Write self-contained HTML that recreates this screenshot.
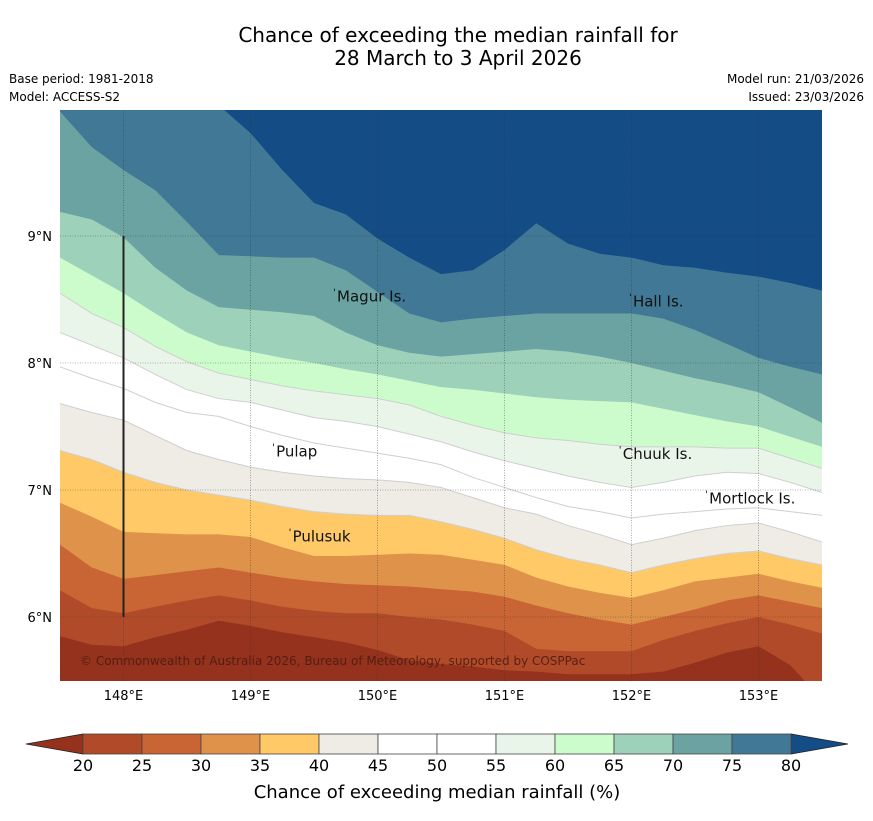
<!DOCTYPE html>
<html><head><meta charset="utf-8"><style>
body{margin:0;background:#fff;font-family:"Liberation Sans","DejaVu Sans",sans-serif;}
svg text{font-family:"DejaVu Sans","Liberation Sans",sans-serif;}
</style></head><body>
<svg id="chart" width="873" height="816" viewBox="0 0 873 816" xmlns="http://www.w3.org/2000/svg">
<text x="458" y="42" font-size="20" text-anchor="middle">Chance of exceeding the median rainfall for</text>
<text x="458" y="65" font-size="20" text-anchor="middle">28 March to 3 April 2026</text>
<text x="9" y="83" font-size="12">Base period: 1981-2018</text>
<text x="9" y="101" font-size="12">Model: ACCESS-S2</text>
<text x="864" y="83" font-size="12" text-anchor="end">Model run: 21/03/2026</text>
<text x="864" y="101" font-size="12" text-anchor="end">Issued: 23/03/2026</text>
<defs><clipPath id="mapclip"><rect x="60" y="110" width="762" height="571"/></clipPath></defs>
<g id="map" clip-path="url(#mapclip)"></g>
<g id="overlay"></g>
<g id="cbar"></g>
<text x="437" y="798" font-size="18" text-anchor="middle">Chance of exceeding median rainfall (%)</text>
</svg>
<script>
const lons=[147.5,147.75,148,148.25,148.5,148.75,149,149.25,149.5,149.75,150,150.25,150.5,150.75,151,151.25,151.5,151.75,152,152.25,152.5,152.75,153,153.25,153.5];
const levels=[20,25,30,35,40,45,50,55,60,65,70,75,80];
const b20=[5.85,5.78,5.77,5.84,5.90,5.97,5.93,5.88,5.84,5.80,5.74,5.66,5.63,5.61,5.58,5.57,5.55,5.55,5.55,5.57,5.64,5.72,5.77,5.62,5.35];
const b25=[6.21,6.07,6.03,6.08,6.13,6.17,6.13,6.08,6.05,6.03,6.03,6.00,5.98,5.94,5.89,5.75,5.73,5.73,5.73,5.82,5.89,5.95,6.00,5.94,5.87];
const b30=[6.57,6.39,6.30,6.33,6.36,6.39,6.35,6.31,6.28,6.26,6.25,6.24,6.22,6.20,6.16,6.09,6.03,5.98,5.94,6.00,6.06,6.13,6.17,6.12,6.07];
const b35=[6.90,6.79,6.67,6.66,6.65,6.65,6.63,6.55,6.48,6.48,6.49,6.50,6.49,6.45,6.41,6.31,6.24,6.19,6.15,6.21,6.28,6.31,6.34,6.28,6.23];
const b40=[7.31,7.24,7.14,7.06,7.00,6.96,6.92,6.87,6.83,6.81,6.80,6.80,6.75,6.69,6.62,6.53,6.46,6.41,6.35,6.41,6.46,6.50,6.52,6.46,6.41];
const b45=[7.68,7.61,7.55,7.43,7.31,7.24,7.18,7.14,7.11,7.09,7.08,7.06,7.02,6.94,6.86,6.81,6.72,6.65,6.57,6.62,6.68,6.72,6.74,6.67,6.59];
const b50=[7.97,7.88,7.80,7.69,7.61,7.58,7.50,7.43,7.37,7.33,7.29,7.25,7.20,7.10,7.02,6.94,6.87,6.83,6.78,6.81,6.83,6.85,6.86,6.83,6.80];
const b55=[8.24,8.14,8.04,7.91,7.79,7.72,7.69,7.63,7.57,7.54,7.50,7.44,7.38,7.30,7.23,7.17,7.11,7.06,7.02,7.06,7.11,7.14,7.13,7.06,6.98];
const b60=[8.55,8.39,8.28,8.13,8.01,7.92,7.87,7.82,7.78,7.75,7.72,7.67,7.58,7.51,7.45,7.41,7.39,7.36,7.34,7.34,7.34,7.33,7.33,7.25,7.17];
const b65=[8.83,8.69,8.55,8.39,8.24,8.14,8.09,8.04,8.00,7.95,7.91,7.86,7.81,7.79,7.76,7.73,7.71,7.70,7.69,7.64,7.59,7.54,7.50,7.42,7.34];
const b70=[9.19,9.13,8.99,8.75,8.57,8.44,8.42,8.40,8.37,8.24,8.14,8.08,8.05,8.07,8.09,8.11,8.09,8.05,8.00,7.94,7.88,7.83,7.77,7.65,7.53];
const b75=[9.98,9.70,9.52,9.36,9.11,8.85,8.84,8.83,8.83,8.73,8.56,8.39,8.32,8.35,8.37,8.39,8.39,8.39,8.39,8.35,8.26,8.15,8.04,7.97,7.91];
const b80=[10.11,10.11,10.11,10.11,10.11,10.03,9.81,9.52,9.26,9.17,8.98,8.83,8.70,8.73,8.89,9.10,8.94,8.86,8.83,8.77,8.75,8.71,8.68,8.63,8.57];
const colors=['#94321e','#b04a28','#c96534','#df9249','#fec966','#efebe5','#ffffff','#ffffff','#eaf5ea','#ccfccc','#9dd1ba','#6ba3a3','#417895','#144d86'];
const lonTicks=[148,149,150,151,152,153];
const latTicks=[6,7,8,9];
const places=[["Magur Is.",149.65,8.57],["Hall Is.",151.98,8.53],["Pulap",149.17,7.35],["Chuuk Is.",151.9,7.33],["Mortlock Is.",152.58,6.98],["Pulusuk",149.3,6.68]];

const NS='http://www.w3.org/2000/svg';
const X=lon=>60+(lon-147.5)*127;
const Y=lat=>236+(9-lat)*127;
const map=document.getElementById('map');
const ov=document.getElementById('overlay');
const cb=document.getElementById('cbar');
function mk(tag,parent,attrs){const e=document.createElementNS(NS,tag);for(const k in attrs)e.setAttribute(k,attrs[k]);parent.appendChild(e);return e;}

const bg=mk('rect',map,{x:60,y:110,width:762,height:571,fill:colors[0]});


const bounds=[b20,b25,b30,b35,b40,b45,b50,b55,b60,b65,b70,b75,b80];
bounds.forEach((b,i)=>{
  let d='M'+lons.map((l,j)=>X(l).toFixed(1)+','+Y(b[j]).toFixed(1)).join(' L');
  d+=' L'+X(153.5)+',100 L'+X(147.5)+',100 Z';
  const p=mk('path',map,{d:d,fill:colors[i+1]});
  
  
  if(levels[i]>=40&&levels[i]<=60){
    const l=mk('polyline',map,{points:lons.map((lo,j)=>X(lo)+','+Y(b[j])).join(' '),fill:'none',stroke:'#cfcfcf','stroke-width':1});
    
    
  }
});
lonTicks.forEach(l=>{
  const g=mk('line',map,{x1:X(l),x2:X(l),y1:110,y2:681,stroke:'#333','stroke-width':0.6,'stroke-dasharray':'1,1.5',opacity:0.7});
  
  
  const t=mk('text',ov,{x:X(l),y:700,'font-size':13,'text-anchor':'middle'});t.textContent=l+'°E';
  
  
});
latTicks.forEach(l=>{
  const g=mk('line',map,{x1:60,x2:822,y1:Y(l),y2:Y(l),stroke:'#333','stroke-width':0.6,'stroke-dasharray':'1,1.5',opacity:0.7});
  
  
  const t=mk('text',ov,{x:52,y:Y(l)+5,'font-size':13,'text-anchor':'end'});t.textContent=l+'°N';
  
  
});
const vl=mk('line',map,{x1:X(148),x2:X(148),y1:Y(9),y2:Y(6),stroke:'#222','stroke-width':2});


places.forEach(p=>{
  const t=mk('text',map,{x:X(p[1])+4,y:Y(p[2])+11,'font-size':15,fill:'#111'});t.textContent=p[0];
  
  
  const m=mk('text',map,{x:X(p[1]),y:Y(p[2])+5,'font-size':10,fill:'#111'});m.textContent="'";
  
  
});
const cr=mk('text',map,{x:80,y:665,'font-size':12,fill:'#4a1a10','fill-opacity':0.85});
cr.textContent='© Commonwealth of Australia 2026, Bureau of Meteorology, supported by COSPPac';



const cx=v=>83+(v-20)*(708/60);
const tl=mk('polygon',cb,{points:'26,744 83,734 83,754',fill:colors[0],stroke:'#222','stroke-width':0.8});


const tr=mk('polygon',cb,{points:'848,744 791,734 791,754',fill:colors[13],stroke:'#222','stroke-width':0.8});


for(let i=0;i<levels.length-1;i++){
  const r=mk('rect',cb,{x:cx(levels[i]),y:734,width:cx(levels[i+1])-cx(levels[i]),height:20,fill:colors[i+1],stroke:'#444','stroke-width':0.8});
  
  
}
levels.forEach(v=>{
  const t=mk('text',cb,{x:cx(v),y:771,'font-size':16,'text-anchor':'middle'});t.textContent=v;
  
  
});
</script>
</body></html>
